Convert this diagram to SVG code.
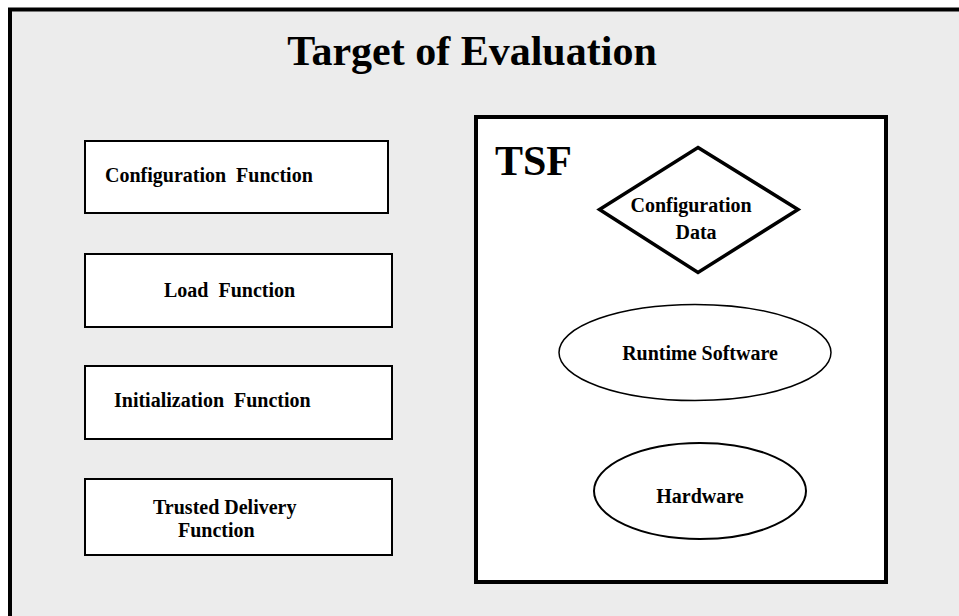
<svg xmlns="http://www.w3.org/2000/svg" width="959" height="616" viewBox="0 0 959 616">
<style>
text{font-family:"Liberation Serif","Times New Roman",serif;font-weight:bold;fill:#000}
.lbl{font-size:20px}
.box{fill:#fff;stroke:#000;stroke-width:2}
</style>
<rect x="0" y="0" width="959" height="616" fill="#fff"/>
<g id="toe">
<rect x="10" y="9.5" width="960" height="620" fill="#ececec" stroke="#000" stroke-width="4"/>
<text x="472" y="65" font-size="42" text-anchor="middle">Target of Evaluation</text>
</g>
<g id="config-function">
<rect class="box" x="85" y="141" width="303" height="72"/>
<text class="lbl" x="105" y="182" xml:space="preserve">Configuration  Function</text>
</g>
<g id="load-function">
<rect class="box" x="85" y="254" width="307" height="73"/>
<text class="lbl" x="164" y="297" xml:space="preserve">Load  Function</text>
</g>
<g id="init-function">
<rect class="box" x="85" y="366" width="307" height="73"/>
<text class="lbl" x="114" y="407" xml:space="preserve">Initialization  Function</text>
</g>
<g id="trusted-delivery">
<rect class="box" x="85" y="479" width="307" height="76"/>
<text class="lbl" x="153" y="514">Trusted Delivery</text>
<text class="lbl" x="178" y="537">Function</text>
</g>
<g id="tsf">
<rect x="476" y="117" width="410" height="465" fill="#fff" stroke="#000" stroke-width="4"/>
<text x="495" y="175" font-size="42">TSF</text>
</g>
<g id="config-data">
<polygon points="698,147.5 798,209.5 698,272.5 599.5,209.5" fill="#fff" stroke="#000" stroke-width="3.5" stroke-linejoin="miter"/>
<text class="lbl" x="691" y="212" text-anchor="middle">Configuration</text>
<text class="lbl" x="696" y="238.5" text-anchor="middle">Data</text>
</g>
<g id="runtime-software">
<ellipse cx="695" cy="352.5" rx="136" ry="48" fill="#fff" stroke="#000" stroke-width="1.5"/>
<text class="lbl" x="700" y="360" text-anchor="middle">Runtime Software</text>
</g>
<g id="hardware">
<ellipse cx="700" cy="491" rx="106" ry="48" fill="#fff" stroke="#000" stroke-width="2"/>
<text class="lbl" x="700" y="503" text-anchor="middle">Hardware</text>
</g>
<g id="connectors"></g>
</svg>
